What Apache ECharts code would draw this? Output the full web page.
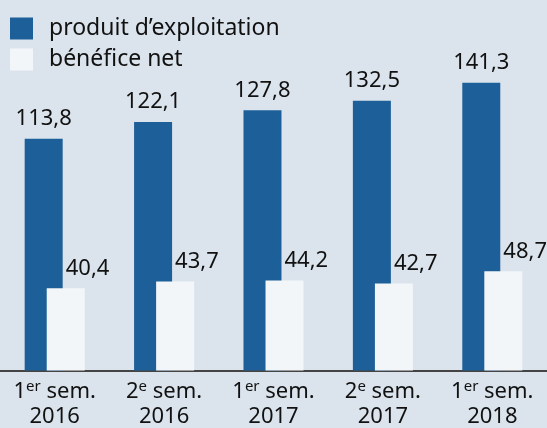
<!DOCTYPE html>
<html><head><meta charset="utf-8">
<script src="https://cdn.jsdelivr.net/npm/echarts@6/dist/echarts.min.js"></script>
<style>html,body{margin:0;padding:0;background:#dbe4ed;}#c{width:547px;height:428px;}</style>
</head><body><div id="c"></div>
<script>
const periods = ['1', '2', '1', '2', '1'];
const periodSup = ['er', 'e', 'er', 'e', 'er'];
const years = ['2016', '2016', '2017', '2017', '2018'];
const produitExploitation = [113.8, 122.1, 127.8, 132.5, 141.3];
const beneficeNet = [40.4, 43.7, 44.2, 42.7, 48.7];
const seriesNames = ['produit d\u2019exploitation', 'b\u00e9n\u00e9fice net'];

const categories = periods.map((p, i) => i);
const FONT = 'Noto Sans';
const fmt = v => String(v.toFixed(1)).replace('.', ',');

const chart = echarts.init(document.getElementById('c'));
chart.setOption({
  backgroundColor: '#dbe4ed',
  animation: false,
  textStyle: { fontFamily: FONT },
  legend: {
    orient: 'vertical', left: 10, top: 17, padding: 0,
    itemWidth: 23, itemHeight: 22, itemGap: 8,
    icon: 'rect',
    textStyle: { fontSize: 23, lineHeight: 22, color: '#111', fontFamily: FONT, padding: [0, 0, 0, 11] },
    data: seriesNames
  },
  grid: { left: 0, right: 0, top: 4, bottom: 56 },
  xAxis: {
    type: 'category', data: categories,
    axisLine: { show: true, lineStyle: { color: '#444', width: 2 } },
    axisTick: { show: false },
    axisLabel: {
      margin: 9, interval: 0,
      formatter: (v, i) => '{a|' + periods[i] + '}{s|' + periodSup[i] + '}{a| sem.}\n{a|' + years[i] + '}',
      rich: {
        a: { fontSize: 22, lineHeight: 25, color: '#111', fontFamily: FONT },
        s: { fontSize: 15, lineHeight: 25, color: '#111', fontFamily: FONT, verticalAlign: 'top', padding: [0, 0, 4, 0] }
      }
    }
  },
  yAxis: { type: 'value', min: 0, max: 180, show: false, splitLine: { show: false } },
  series: [
    {
      name: seriesNames[0], type: 'bar', data: produitExploitation,
      barWidth: 38, barGap: '-42%',
      itemStyle: { color: '#1d5f98' },
      label: { show: true, position: 'top', distance: 9, fontSize: 22, color: '#111', fontFamily: FONT, formatter: p => fmt(p.value) }
    },
    {
      name: seriesNames[1], type: 'bar', data: beneficeNet,
      barWidth: 38,
      itemStyle: { color: '#f2f6f9' },
      label: { show: true, position: 'top', distance: 9, align: 'left', fontSize: 22, color: '#111', fontFamily: FONT, formatter: p => fmt(p.value) }
    }
  ]
});
</script></body></html>
